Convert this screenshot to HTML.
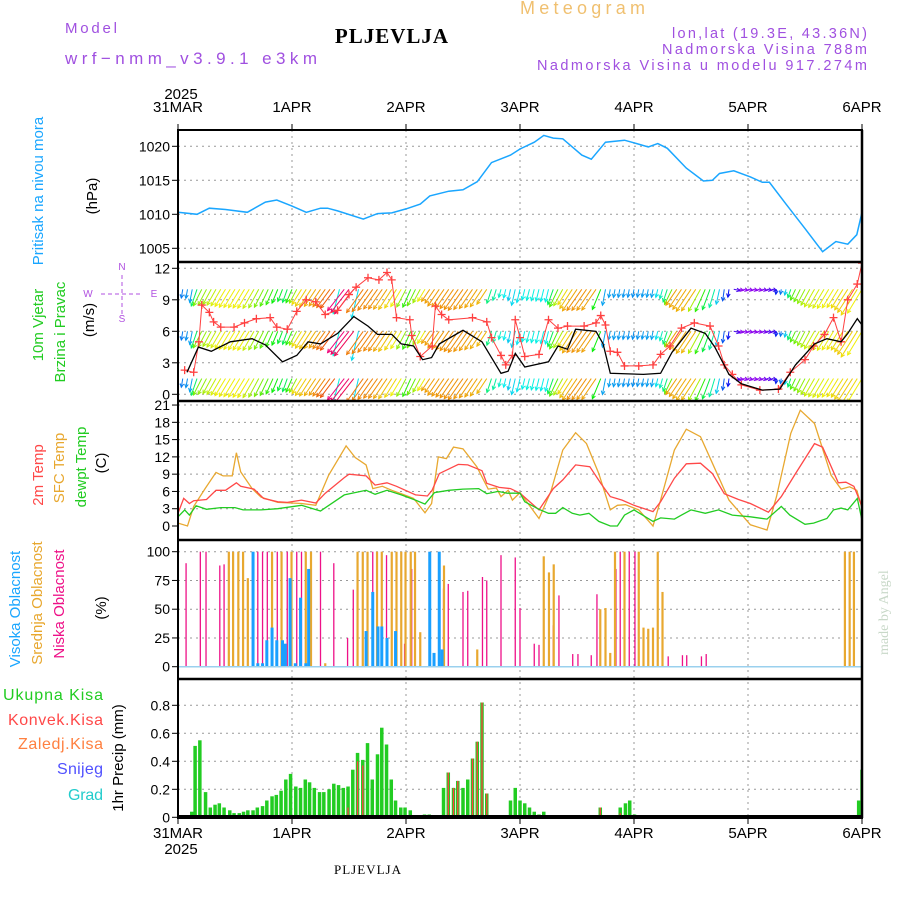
<!DOCTYPE html>
<html><head><meta charset="utf-8"><style>
html,body{margin:0;padding:0;background:#fff;}
svg{display:block;font-family:"Liberation Sans",sans-serif;}
</style></head><body>
<svg id="chart" width="900" height="900" viewBox="0 0 900 900" xmlns="http://www.w3.org/2000/svg">
<rect x="0" y="0" width="900" height="900" fill="#fff"/>
<text x="65" y="33" font-size="15" fill="#a050e0" textLength="52" lengthAdjust="spacing">Model</text>
<text x="65" y="64" font-size="17" fill="#a050e0" textLength="252" lengthAdjust="spacing">wrf−nmm_v3.9.1 e3km</text>
<text x="392" y="43" font-size="21" font-weight="bold" font-family="Liberation Serif,serif" text-anchor="middle" letter-spacing="1">PLJEVLJA</text>
<text x="520" y="14" font-size="18" fill="#f0c070" textLength="125" lengthAdjust="spacing">Meteogram</text>
<text x="672" y="38" font-size="14.5" fill="#a050e0" textLength="195" lengthAdjust="spacing">lon,lat (19.3E, 43.36N)</text>
<text x="662" y="54" font-size="14.5" fill="#a050e0" textLength="205" lengthAdjust="spacing">Nadmorska Visina 788m</text>
<text x="537" y="70" font-size="14.5" fill="#a050e0" textLength="330" lengthAdjust="spacing">Nadmorska Visina u modelu 917.274m</text>
<text x="888" y="655" font-size="14" fill="#c8d8c8" font-family="Liberation Serif,serif" transform="rotate(-90 888 655)">made by Angel</text>
<text x="368" y="874" font-size="13" font-family="Liberation Serif,serif" text-anchor="middle" letter-spacing="1">PLJEVLJA</text>
<g id="g"></g>
</svg>
<script>
// ---- data arrays ----
const dayLabels = ["31MAR","1APR","2APR","3APR","4APR","5APR","6APR"];
const presHours = [0,4,6.6,10,14.6,18.4,20.8,24,27,30,31.5,33.6,39,42,45,48,51,53,57,60,63,66,70,72,75,77,79,81,85,87,90,94,96.6,99,101,103,107,110.6,112.5,114,117,120.5,123,124.5,128,132,135.7,138.5,141,142.9,144];
const presVals = [1010.3,1010.0,1010.9,1010.7,1010.3,1011.8,1012.1,1011.2,1010.3,1010.9,1010.9,1010.5,1009.3,1010.1,1010.2,1010.8,1011.5,1012.7,1013.4,1013.6,1014.8,1017.6,1018.7,1019.6,1020.6,1021.6,1021.2,1021.1,1018.7,1018.1,1020.6,1020.9,1020.4,1019.9,1020.4,1019.7,1016.8,1014.9,1015.0,1016.0,1016.4,1015.5,1014.7,1014.7,1011.5,1007.9,1004.5,1006.0,1005.6,1007.0,1010.3];
const presTicks = [1005,1010,1015,1020];
const spdHours = [1.9,4.3,7,11,15.6,18.4,22,25,27.4,30,33.6,37,40,42,45,47,49.6,51.5,53.4,55,60,64,68,69.5,71,73,78,80,82,83.7,88,89.5,91,98,101.6,104,108,111,113,116,118.6,123,126.7,130,134,136.6,139.6,141,143,144];
const spdVals = [2.1,4.5,4.1,5.0,5.3,4.7,3.1,3.7,5.0,4.8,5.8,7.4,6.5,5.7,5.7,4.8,4.6,3.3,3.5,4.8,6.1,5.0,2.0,2.2,3.9,2.6,3.1,4.6,4.3,6.2,6.0,4.8,2.0,1.9,2.0,4.0,6.3,5.8,4.5,1.9,1.0,0.4,0.5,2.8,4.8,5.3,5.0,5.8,7.2,6.6];
const gustHours = [1.4,3.3,4.4,5,6.6,7.5,9,11.8,14,16.5,19.4,20.8,23,25,27,29,31,33.6,36,37.5,40,42.3,44,45,46,48.8,49.2,51,53.5,54.2,55.5,57,62,65,66,68,69,70.4,71,72,73,76,78,80,82,85.5,88,89,90,91,92.5,94,97,100,101.6,103.6,106,108.7,112,113.8,115,116.7,118.6,122.5,126.4,128.9,132,133.8,136.1,138,139.6,141,143,144];
const gustVals = [2.3,2.1,5.0,8.5,7.8,6.9,6.4,6.4,6.8,7.2,7.3,6.4,6.2,7.9,9.0,8.8,7.6,8.0,9.5,10.2,11.1,10.9,11.6,10.9,7.3,7.1,5.6,3.6,4.6,8.4,7.6,7.1,7.3,6.9,5.4,3.7,2.8,3.7,7.1,5.4,3.6,3.8,7.1,6.3,6.5,6.5,6.8,7.5,6.6,4.1,4.0,2.7,2.7,2.8,3.8,4.6,6.3,6.8,6.5,4.6,2.8,1.9,0.9,0.4,0.5,2.1,3.3,4.6,5.7,7.3,5.0,9.0,10.5,12.5];
const windDirHours = [0,3,5,10,15,20,23,26,30,33,35,37,39,43,47,49,51,53,60,65,66,70,74,78,80,82,85,88,90,96,100,103,105,109,111,113,115,118,122,125,128,130,134,138,142,144];
const windDirHue = [215,200,90,60,60,110,140,55,40,20,330,340,30,35,60,110,80,40,35,45,150,190,175,180,100,55,35,40,200,205,200,150,40,45,110,160,220,275,275,255,190,100,70,60,50,60];
const windRows = [10,6,1.5];
const t2Hours = [0,1.2,2.4,3.3,6,8,10,12.3,13.2,16,18,21,23,26,29,31,35,36,39.6,41.5,44,46,50,52.5,53.5,55,59,61,64,65,67.6,70,72,76,79,81,83.7,86.7,89,91,93.5,96,100,101.6,104.5,107,110,112.5,115,118,120.5,124.3,127,130,134,135.7,139,140.6,142.3,144];
const t2Vals = [2.2,4.8,3.9,4.4,4.6,6.2,6.2,7.5,6.9,6.4,4.8,4.2,4.1,4.5,4.0,5.7,8.4,9.0,8.7,7.1,7.5,6.9,5.4,5.2,6.2,9.1,10.7,10.6,9.6,7.4,6.7,6.5,5.7,2.8,6.5,8.0,10.6,10.3,7.4,5.1,4.5,3.6,2.5,4.2,8.3,10.8,10.9,9.1,5.6,4.6,3.9,2.4,5.1,9.1,14.3,13.7,7.5,7.6,6.9,3.4];
const sfcHours = [0,2,3.3,5.7,8,9.5,11.4,12.3,13.2,15.6,17.5,21,26,29,31.7,35.4,37.3,39.6,41,43,45,47,49.6,52,53.4,54.8,56.5,58,60,62.9,65.3,67,68,69.5,70.4,72,76,78.5,81,83.7,86,88.6,91,92.5,94.2,97,100,101.6,104.5,107,110,112.5,116,120.5,124,126,129,131,134,137.5,139.6,141.4,142.9,144];
const sfcVals = [0.5,0,3.4,6.5,9.3,8.7,8.7,12.7,9.4,6.5,5.0,4.1,3.9,3.6,8.8,13.9,11.9,10.6,6.5,6.9,6.2,5.6,4.8,2.3,3.9,12.0,11.7,13.7,13.4,10.3,6.4,6.6,5.1,6.2,4.5,5.8,1.3,6.0,13.2,16.2,14.3,9.1,2.8,3.6,3.7,2.8,0,4.5,13.2,16.8,15.5,10.9,4.5,0.2,-0.7,5.1,16.1,20.1,17.8,8.8,6.4,6.8,6.2,3.1];
const dewHours = [0,1.4,2.4,3.8,6,9,12,13.7,17.5,21,26,30,35,39.6,41.5,44,47,50,52,54,57,60,63.3,65,67.4,69.3,72,73,76,78,79.5,81,83,84.6,86.5,88.6,91,92.5,94,96,100,101.6,104.5,106,108,111,113.8,116.7,120.5,124,127,128.8,132,133.8,136.6,138,139.6,141,143,144];
const dewVals = [1.6,2.8,1.9,3.5,2.9,3.2,3.2,2.8,2.8,3.0,3.6,2.6,5.4,6.2,5.5,6.2,5.4,4.5,3.8,5.8,6.2,6.4,6.5,5.6,6.0,5.7,5.7,4.2,2.9,2.2,2.2,3.2,2.2,1.9,2.2,0.8,0,0,1.9,2.8,0.8,1.4,1.2,1.9,2.8,2.2,2.8,1.9,1.6,1.2,3.4,1.9,0.3,0.5,1.3,2.8,3.1,2.8,4.8,1.0];
const tempTicks = [0,3,6,9,12,15,18,21];
const lowHours = [1.7,4.7,5.9,8.8,9.7,16.8,17.8,18.8,20.9,23,25,26,30,32.8,35.7,36.9,41,43.9,47.7,49.2,55.9,56.9,60,61,64.1,65,68,71,72,75,76,79,80.2,83.1,84.2,87,88.2,92.2,93.1,95,96.2,99,103.2,106.2,107.1,110.2,111.2,141.4];
const lowVals = [90,100,100,88,89,100,100,100,100,100,100,100,100,90,25,67,100,97,20,85,68,72,65,66,78,75,97,95,51,20,19,36,62,11,11,10,63,85,100,100,100,25,9,10,10,9,11,24];
const midHours = [10.7,11.6,12.7,13.7,14.7,15.8,19.8,21.8,23.9,26.9,28,31,37.8,38.9,39.9,41.9,42.9,45,46,47,47.9,49,49.9,51,53,55,56,63,77,78.1,79.1,88.9,90,91,92,94,97,98,99,100,101,102,140.4,141.4,142.3];
const midVals = [100,100,100,100,77,13,100,100,100,100,100,3,100,100,100,100,100,100,100,100,100,100,100,30,80,80,88,15,96,82,89,50,51,12,100,100,100,34,33,34,100,65,100,100,100];
const highHours = [15.8,16.8,17.8,18.7,19.8,20.8,22,22.6,23.6,24.7,25.8,26.9,27.5,39.6,41,42.1,42.9,44,45.8,53,53.9,55,55.6];
const highVals = [100,3,3,23,34,23,23,20,77,3,60,3,85,31,65,35,35,25,31,100,12,100,15];
const cloudTicks = [0,25,50,75,100];
const precHours = [2.9,3.6,4.6,5.8,6.8,7.8,8.7,9.7,10.9,11.8,12.9,13.8,14.7,15.8,16.7,17.8,18.7,19.8,20.7,21.7,22.7,23.7,24.8,25.8,26.8,27.7,28.7,29.8,30.7,31.8,32.8,33.8,34.8,35.8,36.8,37.8,38.9,39.9,40.9,42,42.9,43.9,44.9,45.8,46.9,47.8,48.9,49.9,50.9,51.9,52.9,53.9,55,55.9,56.9,58,58.9,60,61,62,63,64,65,69,70,71,72,73,74,75,76,77,81,88.9,93.1,94.2,95.1,96.1,113.2,143.3,144];
const precTotal = [0.04,0.51,0.55,0.18,0.07,0.09,0.1,0.07,0.05,0.03,0.03,0.04,0.05,0.05,0.07,0.08,0.12,0.15,0.16,0.19,0.27,0.31,0.22,0.21,0.27,0.25,0.21,0.18,0.18,0.2,0.24,0.23,0.21,0.22,0.34,0.46,0.41,0.53,0.27,0.45,0.64,0.52,0.27,0.12,0.07,0.07,0.05,0.01,0.01,0.02,0.02,0.01,0.01,0.21,0.32,0.21,0.26,0.21,0.27,0.42,0.54,0.82,0.17,0.01,0.12,0.21,0.12,0.1,0.07,0.04,0.02,0.04,0.01,0.07,0.07,0.1,0.12,0.02,0.01,0.12,0.34];
const convHours = [10.9,35.8,37.8,38.9,56.9,58,58.9,62,63,64,65,88.9,93.1,113.2];
const convVals = [0.01,0.07,0.4,0.37,0.32,0.21,0.26,0.42,0.54,0.82,0.17,0.07,0.03,0.01];
const precTicks = [0,0.2,0.4,0.6,0.8];
const windTicks = [0,3,6,9,12];

// ---- axes ----
const X0=178, PX=4.75;
const X = t => X0 + t*PX;
const Yp = p => 214.3 - (p-1010)*6.8;
const Yw = v => 394.3 - v*10.5;
const Yt = T => 526 - T*5.76;
const Yc = c => 666.7 - c*1.15;
const Ypr = P => 817.3 - P*140;
const panels = [[130,262],[262,401],[401,540],[540,679],[679,818]];
const NS="http://www.w3.org/2000/svg";
const G=document.getElementById('g');
function el(tag, attrs, parent){const e=document.createElementNS(NS,tag);for(const k in attrs)e.setAttribute(k,attrs[k]);(parent||G).appendChild(e);return e;}
function txt(x,y,s,attrs,parent){const e=el('text',Object.assign({x:x,y:y},attrs),parent);e.textContent=s;return e;}
function interp(hs,vs,t){if(t<=hs[0])return vs[0];for(let i=1;i<hs.length;i++){if(t<=hs[i]){const f=(t-hs[i-1])/(hs[i]-hs[i-1]);return vs[i-1]+f*(vs[i]-vs[i-1]);}}return vs[vs.length-1];}

const defs=el('defs',{});
panels.forEach((p,i)=>{const c=el('clipPath',{id:'clip'+i},defs);el('rect',{x:X0,y:p[0],width:684,height:p[1]-p[0]},c);});

const grid=el('g',{});


for(let d=1;d<6;d++){el('line',{x1:X(d*24),x2:X(d*24),y1:130,y2:818,stroke:'#999','stroke-dasharray':'2,4','stroke-width':1},grid);}
function hgrid(ticks,Y){ticks.forEach(v=>{const y=Y(v);el('line',{x1:X0,x2:862,y1:y,y2:y,stroke:'#999','stroke-dasharray':'2,4','stroke-width':1},grid);});}
hgrid(presTicks,Yp);hgrid(windTicks,Yw);hgrid(tempTicks.slice(1),Yt);hgrid(cloudTicks,Yc);hgrid(precTicks.slice(1),Ypr);

function yticks(ticks,Y,name,fmt){const g=el('g',{});
 ticks.forEach(v=>{const y=Y(v);el('line',{x1:172,x2:178,y1:y,y2:y,stroke:'#000'},g);txt(170,y+5,fmt?fmt(v):String(v),{'font-size':14,'text-anchor':'end',fill:'#000'},g);});}
yticks(presTicks,Yp,'pressure-y-ticks');yticks(windTicks,Yw,'wind-y-ticks');yticks(tempTicks,Yt,'temp-y-ticks');yticks(cloudTicks,Yc,'cloud-y-ticks');yticks(precTicks,Ypr,'precip-y-ticks',v=>v===0?'0':v.toFixed(1));

const xl=el('g',{});


dayLabels.forEach((s,i)=>{txt(X(i*24),112,s,{'font-size':15,'text-anchor':'middle'},xl);txt(X(i*24),838,s,{'font-size':15,'text-anchor':'middle'},xl);
 el('line',{x1:X(i*24),x2:X(i*24),y1:818,y2:824,stroke:'#000'},xl);el('line',{x1:X(i*24),x2:X(i*24),y1:124,y2:130,stroke:'#000'},xl);});
txt(181,99,'2025',{'font-size':15,'text-anchor':'middle'},xl);
txt(181,854,'2025',{'font-size':15,'text-anchor':'middle'},xl);

function poly(hs,vs,Y,color,w,clip){const pts=hs.map((h,i)=>X(h).toFixed(1)+','+Y(vs[i]).toFixed(1)).join(' ');
 return el('polyline',{points:pts,fill:'none',stroke:color,'stroke-width':w,'clip-path':'url(#clip'+clip+')'});}

const pl=poly(presHours,presVals,Yp,'#1aa6ff',1.5,0);



const wg=el('g',{'clip-path':'url(#clip1)'});


windRows.forEach(rv=>{const base=Yw(rv);
 for(let t=0;t<=144;t++){const s=interp(spdHours,spdVals,t);const hue=interp(windDirHours,windDirHue,t);
  let ang; if(hue>=250&&hue<300){ang=12;} else if(hue>=300){ang=128;} else {ang=98+(220-Math.min(hue,220))/220*32;}
  const L=Math.max(5,s*4.2);const a=ang*Math.PI/180;const x1=X(t),y1=base;const x2=x1+L*Math.cos(a),y2=y1+L*Math.sin(a);
  const col='hsl('+hue+',95%,48%)';
  el('line',{x1:x1,y1:y1,x2:x2,y2:y2,stroke:col,'stroke-width':1},wg);
  const h1=a+Math.PI*0.85,h2=a-Math.PI*0.85;
  el('polyline',{points:(x2+4*Math.cos(h1))+','+(y2+4*Math.sin(h1))+' '+x2+','+y2+' '+(x2+4*Math.cos(h2))+','+(y2+4*Math.sin(h2)),fill:'none',stroke:col,'stroke-width':1},wg);
 }});

const gl=poly(gustHours,gustVals,Yw,'#ff4040',1,1);


const gm=el('g',{'clip-path':'url(#clip1)'});


gustHours.forEach((h,i)=>{const x=X(h),y=Yw(gustVals[i]);el('path',{d:'M'+(x-4)+' '+y+'h8M'+x+' '+(y-4)+'v8',stroke:'#ff4040','stroke-width':1.3},gm);});
const sl=poly(spdHours,spdVals,Yw,'#000',1.3,1);



const sfl=poly(sfcHours,sfcVals,Yt,'#e8a830',1.3,2);


const t2l=poly(t2Hours,t2Vals,Yt,'#ff4848',1.3,2);


const dwl=poly(dewHours,dewVals,Yt,'#22cc22',1.3,2);



function bars(hs,vs,Y,color,w,name,clip,y0){const g=el('g',{'clip-path':'url(#clip'+clip+')'});
 hs.forEach((h,i)=>{const y=Y(vs[i]);el('rect',{x:X(h)-w/2,y:y,width:w,height:Math.max(0,y0-y),fill:color},g);});return g;}
bars(lowHours,lowVals,Yc,'#ee1188',1.3,'low-cloud-bars',3,Yc(0));
bars(midHours,midVals,Yc,'#e8a830',2.2,'mid-cloud-bars',3,Yc(0));
bars(highHours,highVals,Yc,'#1aa0ff',3,'high-cloud-bars',3,Yc(0));
el('line',{x1:X0,x2:862,y1:Yc(0),y2:Yc(0),stroke:'#9ad0ee','stroke-width':1.5});

bars(precHours,precTotal,Ypr,'#22cc22',3.5,'total-precip-bars',4,Ypr(0));
bars(convHours,convVals,Ypr,'#ff4040',1.3,'convective-precip-bars',4,Ypr(0));
el('line',{x1:X0,x2:862,y1:Ypr(0)-1,y2:Ypr(0)-1,stroke:'#000','stroke-width':2.5});

const fr=el('g',{});


el('rect',{x:X0,y:130,width:684,height:688,fill:'none',stroke:'#000','stroke-width':2},fr);
[262,401,540,679].forEach(y=>el('line',{x1:X0,x2:863,y1:y,y2:y,stroke:'#000','stroke-width':2.5},fr));
el('line',{x1:862,x2:862,y1:130,y2:818,stroke:'#000','stroke-width':2.5},fr);

function vlabel(x,y,s,color,size,name){const t=txt(x,y,s,{'font-size':size||15,fill:color,'text-anchor':'middle',transform:'rotate(-90 '+x+' '+y+')'});
 }
vlabel(43,191,'Pritisak na nivou mora','#1aa6ff',15,'pressure-title');
vlabel(97,196,'(hPa)','#000',15,'pressure-unit');
vlabel(43,325,'10m Vjetar','#22cc22',15,'wind-title-1');
vlabel(65,332,'Brzina i Pravac','#22cc22',15,'wind-title-2');
vlabel(94,320,'(m/s)','#000',15,'wind-unit');
vlabel(43,475,'2m Temp','#ff4848',15,'temp-2m-title');
vlabel(64,468,'SFC Temp','#e8a830',15,'sfc-temp-title');
vlabel(86,467,'dewpt Temp','#22cc22',15,'dewpt-title');
vlabel(106,463,'(C)','#000',15,'temp-unit');
vlabel(20,609,'Visoka Oblacnost','#1aa6ff',15,'high-cloud-title');
vlabel(42,603,'Srednja Oblacnost','#e8a830',15,'mid-cloud-title');
vlabel(64,604,'Niska Oblacnost','#ee1188',15,'low-cloud-title');
vlabel(106,608,'(%)','#000',15,'cloud-unit');
vlabel(123,758,'1hr Precip (mm)','#000',15,'precip-unit');
const pls=[['Ukupna  Kisa','#22cc22',700,'legend-total-rain',3],['Konvek.Kisa','#ff4848',725,'legend-convective-rain',8],['Zaledj.Kisa','#ff8040',749,'legend-freezing-rain',18],['Snijeg','#5050ff',774,'legend-snow',57],['Grad','#22cccc',800,'legend-hail',68]];
pls.forEach(p=>{const t=txt(p[4],p[2],p[0],{'font-size':16,fill:p[1],textLength:103-p[4],lengthAdjust:'spacing','xml:space':'preserve'});
 
 });
const cp=el('g',{fill:'#b050e0','font-size':10,stroke:'none'});


txt(122,270,'N',{'text-anchor':'middle'},cp);txt(122,322,'S',{'text-anchor':'middle'},cp);
txt(88,297,'W',{'text-anchor':'middle'},cp);txt(154,297,'E',{'text-anchor':'middle'},cp);
el('path',{d:'M101 294h42M122 275v40',stroke:'#b050e0','stroke-dasharray':'4,3','stroke-width':1,fill:'none'},cp);
</script>
</body></html>
